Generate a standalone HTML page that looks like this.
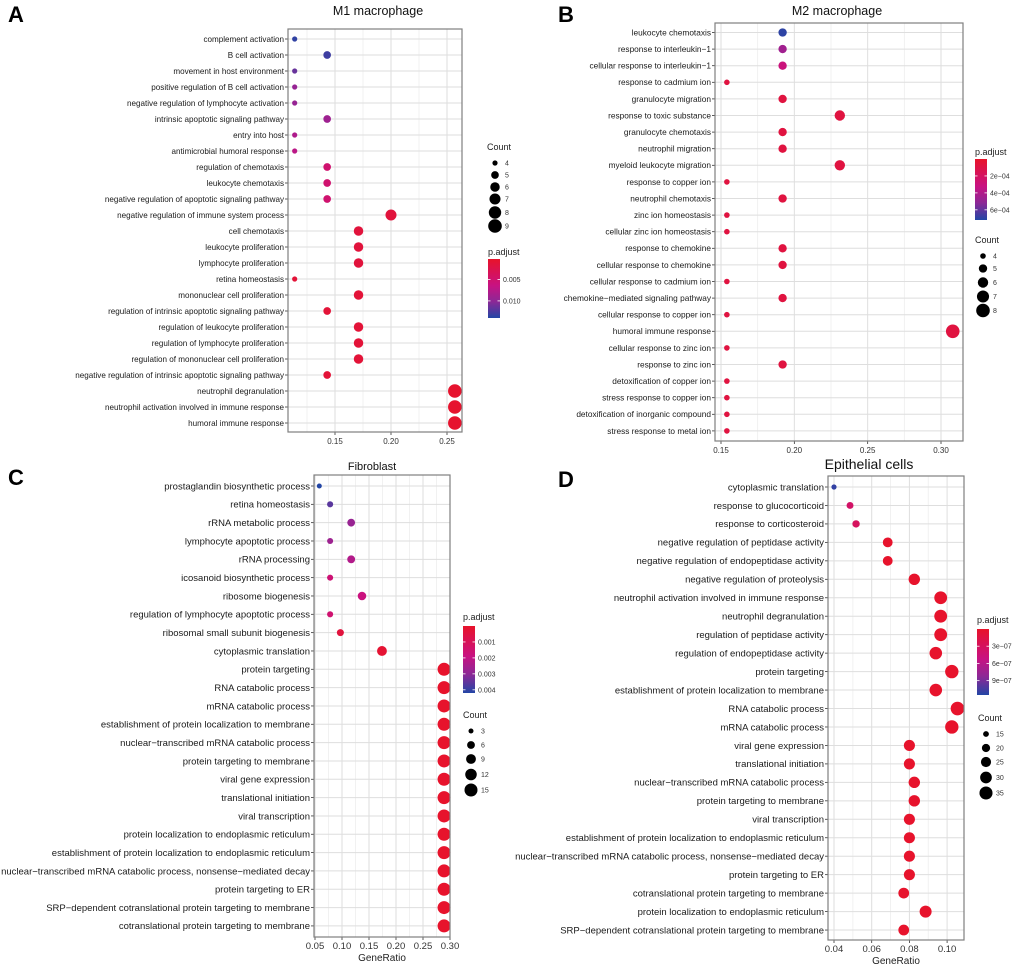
<!DOCTYPE html>
<html><head><meta charset="utf-8"><style>
body{margin:0;background:#fff;}
svg{display:block;font-family:"Liberation Sans",sans-serif;}
</style></head><body>
<svg id="fig" width="1020" height="968" viewBox="0 0 1020 968"></svg>
<script>
// ---------- Panel A data ----------
const A_terms = ["complement activation","B cell activation","movement in host environment","positive regulation of B cell activation","negative regulation of lymphocyte activation","intrinsic apoptotic signaling pathway","entry into host","antimicrobial humoral response","regulation of chemotaxis","leukocyte chemotaxis","negative regulation of apoptotic signaling pathway","negative regulation of immune system process","cell chemotaxis","leukocyte proliferation","lymphocyte proliferation","retina homeostasis","mononuclear cell proliferation","regulation of intrinsic apoptotic signaling pathway","regulation of leukocyte proliferation","regulation of lymphocyte proliferation","regulation of mononuclear cell proliferation","negative regulation of intrinsic apoptotic signaling pathway","neutrophil degranulation","neutrophil activation involved in immune response","humoral immune response"];
const A_ratio = [0.114,0.143,0.114,0.114,0.114,0.143,0.114,0.114,0.143,0.143,0.143,0.2,0.171,0.171,0.171,0.114,0.171,0.143,0.171,0.171,0.171,0.143,0.257,0.257,0.257];
const A_count = [4,5,4,4,4,5,4,4,5,5,5,7,6,6,6,4,6,5,6,6,6,5,9,9,9];
const A_padj = [0.0135,0.013,0.0115,0.0095,0.0095,0.009,0.008,0.0072,0.005,0.005,0.005,0.0015,0.0015,0.0015,0.0015,0.0012,0.0012,0.0012,0.0012,0.0012,0.0012,0.0012,0.0005,0.0005,0.0005];
const A_xticks = [0.15,0.20,0.25];
const A_xtickLabels = ["0.15","0.20","0.25"];
const A_countLegend = [4,5,6,7,8,9];
const A_padjTicks = [0.005,0.010];
const A_padjLabels = ["0.005","0.010"];
// ---------- Panel B data ----------
const B_terms = ["leukocyte chemotaxis","response to interleukin\u22121","cellular response to interleukin\u22121","response to cadmium ion","granulocyte migration","response to toxic substance","granulocyte chemotaxis","neutrophil migration","myeloid leukocyte migration","response to copper ion","neutrophil chemotaxis","zinc ion homeostasis","cellular zinc ion homeostasis","response to chemokine","cellular response to chemokine","cellular response to cadmium ion","chemokine\u2212mediated signaling pathway","cellular response to copper ion","humoral immune response","cellular response to zinc ion","response to zinc ion","detoxification of copper ion","stress response to copper ion","detoxification of inorganic compound","stress response to metal ion"];
const B_ratio = [0.192,0.192,0.192,0.154,0.192,0.231,0.192,0.192,0.231,0.154,0.192,0.154,0.154,0.192,0.192,0.154,0.192,0.154,0.308,0.154,0.192,0.154,0.154,0.154,0.154];
const B_count = [5,5,5,4,5,6,5,5,6,4,5,4,4,5,5,4,5,4,8,4,5,4,4,4,4];
const B_padj = [7e-4,4.5e-4,3e-4,8e-5,8e-5,8e-5,8e-5,8e-5,8e-5,8e-5,8e-5,8e-5,8e-5,8e-5,8e-5,8e-5,8e-5,8e-5,8e-5,8e-5,8e-5,8e-5,8e-5,8e-5,8e-5];
const B_xticks = [0.15,0.20,0.25,0.30];
const B_xtickLabels = ["0.15","0.20","0.25","0.30"];
const B_countLegend = [4,5,6,7,8];
const B_padjTicks = [2e-4,4e-4,6e-4];
const B_padjLabels = ["2e\u221204","4e\u221204","6e\u221204"];
// ---------- Panel C data ----------
const C_terms = ["prostaglandin biosynthetic process","retina homeostasis","rRNA metabolic process","lymphocyte apoptotic process","rRNA processing","icosanoid biosynthetic process","ribosome biogenesis","regulation of lymphocyte apoptotic process","ribosomal small subunit biogenesis","cytoplasmic translation","protein targeting","RNA catabolic process","mRNA catabolic process","establishment of protein localization to membrane","nuclear\u2212transcribed mRNA catabolic process","protein targeting to membrane","viral gene expression","translational initiation","viral transcription","protein localization to endoplasmic reticulum","establishment of protein localization to endoplasmic reticulum","nuclear\u2212transcribed mRNA catabolic process, nonsense\u2212mediated decay","protein targeting to ER","SRP\u2212dependent cotranslational protein targeting to membrane","cotranslational protein targeting to membrane"];
const C_ratio = [0.058,0.078,0.117,0.078,0.117,0.078,0.137,0.078,0.097,0.174,0.289,0.289,0.289,0.289,0.289,0.289,0.289,0.289,0.289,0.289,0.289,0.289,0.289,0.289,0.289];
const C_count = [3,4,6,4,6,4,7,4,5,9,15,15,15,15,15,15,15,15,15,15,15,15,15,15,15];
const C_padj = [0.0042,0.0036,0.0028,0.0027,0.0023,0.0016,0.0018,0.0015,0.0004,0.0002,5e-5,5e-5,5e-5,5e-5,5e-5,5e-5,5e-5,5e-5,5e-5,5e-5,5e-5,5e-5,5e-5,5e-5,5e-5];
const C_xticks = [0.05,0.10,0.15,0.20,0.25,0.30];
const C_xtickLabels = ["0.05","0.10","0.15","0.20","0.25","0.30"];
const C_countLegend = [3,6,9,12,15];
const C_padjTicks = [0.001,0.002,0.003,0.004];
const C_padjLabels = ["0.001","0.002","0.003","0.004"];
// ---------- Panel D data ----------
const D_terms = ["cytoplasmic translation","response to glucocorticoid","response to corticosteroid","negative regulation of peptidase activity","negative regulation of endopeptidase activity","negative regulation of proteolysis","neutrophil activation involved in immune response","neutrophil degranulation","regulation of peptidase activity","regulation of endopeptidase activity","protein targeting","establishment of protein localization to membrane","RNA catabolic process","mRNA catabolic process","viral gene expression","translational initiation","nuclear\u2212transcribed mRNA catabolic process","protein targeting to membrane","viral transcription","establishment of protein localization to endoplasmic reticulum","nuclear\u2212transcribed mRNA catabolic process, nonsense\u2212mediated decay","protein targeting to ER","cotranslational protein targeting to membrane","protein localization to endoplasmic reticulum","SRP\u2212dependent cotranslational protein targeting to membrane"];
const D_ratio = [0.04,0.0485,0.0517,0.0685,0.0685,0.0826,0.0966,0.0966,0.0966,0.094,0.1025,0.094,0.1055,0.1025,0.08,0.08,0.0826,0.0826,0.08,0.08,0.08,0.08,0.077,0.0886,0.077];
const D_count = [14,17,18,24,24,29,34,34,34,33,36,33,37,36,28,28,29,29,28,28,28,28,27,31,27];
const D_padj = [1.1e-6,3.5e-7,3e-7,1e-8,1e-8,1e-8,1e-8,1e-8,1e-8,1e-8,1e-8,1e-8,1e-8,1e-8,1e-8,1e-8,1e-8,1e-8,1e-8,1e-8,1e-8,1e-8,1e-8,1e-8,1e-8];
const D_xticks = [0.04,0.06,0.08,0.10];
const D_xtickLabels = ["0.04","0.06","0.08","0.10"];
const D_countLegend = [15,20,25,30,35];
const D_padjTicks = [3e-7,6e-7,9e-7];
const D_padjLabels = ["3e\u221207","6e\u221207","9e\u221207"];

const NS = "http://www.w3.org/2000/svg";
const svg = document.getElementById("fig");
function mk(tag, attrs, parent){
  const e = document.createElementNS(NS, tag);
  for (const k in attrs) e.setAttribute(k, attrs[k]);
  (parent||svg).appendChild(e);
  return e;
}
const stops = [[0,[232,19,42]],[0.45,[200,18,130]],[0.72,[140,40,150]],[1,[35,70,165]]];
function colorFor(t){
  t = Math.max(0, Math.min(1, t));
  for (let i=1;i<stops.length;i++){
    if (t <= stops[i][0]){
      const a=stops[i-1], b=stops[i], f=(t-a[0])/(b[0]-a[0]);
      const c=a[1].map((v,j)=>Math.round(v+(b[1][j]-v)*f));
      return "rgb("+c.join(",")+")";
    }
  }
  return "rgb(35,70,165)";
}
const grad = mk("defs",{});
const lg = mk("linearGradient",{id:"cbar",x1:"0",y1:"0",x2:"0",y2:"1"},grad);
stops.forEach(s=>mk("stop",{offset:s[0],"stop-color":"rgb("+s[1].join(",")+")"},lg));

function panel(cfg, terms, ratio, count, padj, xticks, xtickLabels, countLegend, padjTicks, padjLabels){
  const g = mk("g",{});
  
  
  const xs = v => cfg.x0 + (v - cfg.v0) * cfg.k;
  const ys = i => cfg.y0 + i * cfg.dy;
  const rs = c => Math.sqrt(cfg.rmin*cfg.rmin + (c-cfg.cmin)/(cfg.cmax-cfg.cmin)*(cfg.rmax*cfg.rmax-cfg.rmin*cfg.rmin));
  const pt = p => (p - cfg.pmin)/(cfg.pmax - cfg.pmin);
  for (let i=0;i<xticks.length+1;i++){
    const step = xticks[1]-xticks[0];
    const v = xticks[0] - step/2 + i*step;
    const x = xs(v);
    if (x > cfg.bx0 && x < cfg.bx1){
      const l = mk("line",{x1:x,x2:x,y1:cfg.by0,y2:cfg.by1,stroke:"#eeeeee","stroke-width":0.8},g);
      
      
    }
  }
  xticks.forEach((v,i)=>{
    const x = xs(v);
    const l = mk("line",{x1:x,x2:x,y1:cfg.by0,y2:cfg.by1,stroke:"#dedede","stroke-width":1},g);
    
    
    mk("line",{x1:x,x2:x,y1:cfg.by1,y2:cfg.by1+3,stroke:"#333","stroke-width":0.8},g);
    const t = mk("text",{x:x,y:cfg.by1+12,"text-anchor":"middle","font-size":cfg.tfs,fill:"#333"},g);
    t.textContent = xtickLabels[i];
    
    
  });
  terms.forEach((term,i)=>{
    const y = ys(i);
    const l = mk("line",{x1:cfg.bx0,x2:cfg.bx1,y1:y,y2:y,stroke:"#dedede","stroke-width":1},g);
    
    
    mk("line",{x1:cfg.bx0-3,x2:cfg.bx0,y1:y,y2:y,stroke:"#333","stroke-width":0.8},g);
    const t = mk("text",{x:cfg.bx0-4,y:y+cfg.fs*0.35,"text-anchor":"end","font-size":cfg.fs,fill:"#1a1a1a"},g);
    t.textContent = term;
    
    
  });
  terms.forEach((term,i)=>{
    const c = mk("circle",{cx:xs(ratio[i]),cy:ys(i),r:rs(count[i]),fill:colorFor(pt(padj[i]))},g);
    
    
  });
  const box = mk("rect",{x:cfg.bx0,y:cfg.by0,width:cfg.bx1-cfg.bx0,height:cfg.by1-cfg.by0,fill:"none",stroke:"#7f7f7f","stroke-width":1.2},g);
  
  
  if (cfg.title){
    const t = mk("text",{x:cfg.titleX,y:cfg.titleY,"text-anchor":"middle","font-size":cfg.titleFs,fill:"#111"},g);
    t.textContent = cfg.title;
    
    
  }
  if (cfg.xlab){
    const t = mk("text",{x:(cfg.bx0+cfg.bx1)/2,y:cfg.by1+24,"text-anchor":"middle","font-size":10,fill:"#222"},g);
    t.textContent = "GeneRatio";
    
    
  }
  const L = mk("text",{x:cfg.letterX,y:cfg.letterY,"font-size":22,"font-weight":"bold",fill:"#000"},g);
  L.textContent = cfg.letter;
  
  
  const ct = mk("text",{x:cfg.cLegX,y:cfg.cLegY,"font-size":9,fill:"#222"},g);
  ct.textContent = "Count";
  
  
  countLegend.forEach((c,i)=>{
    const y = cfg.cLegY + 13 + i*cfg.cLegDy + (i>=cfg.cLegDy2start? (i-cfg.cLegDy2start+1)*1.5:0);
    const d = mk("circle",{cx:cfg.cLegX+8,cy:y,r:rs(c),fill:"#000"},g);
    
    
    const t = mk("text",{x:cfg.cLegX+18,y:y+2.5,"font-size":7,fill:"#333"},g);
    t.textContent = c;
    
    
  });
  const pt2 = mk("text",{x:cfg.pLegX,y:cfg.pLegY,"font-size":9,fill:"#222"},g);
  pt2.textContent = "p.adjust";
  
  
  const bar = mk("rect",{x:cfg.pLegX,y:cfg.barY0,width:12,height:cfg.barY1-cfg.barY0,fill:"url(#cbar)"},g);
  
  
  padjTicks.forEach((p,i)=>{
    const y = cfg.barY0 + pt(p)*(cfg.barY1-cfg.barY0);
    mk("line",{x1:cfg.pLegX,x2:cfg.pLegX+2.5,y1:y,y2:y,stroke:"#fff","stroke-width":0.8},g);
    mk("line",{x1:cfg.pLegX+9.5,x2:cfg.pLegX+12,y1:y,y2:y,stroke:"#fff","stroke-width":0.8},g);
    const t = mk("text",{x:cfg.pLegX+15,y:y+2.5,"font-size":7,fill:"#333"},g);
    t.textContent = padjLabels[i];
    
    
  });
}

panel({id:"m1",letter:"A",letterX:8,letterY:22,title:"M1 macrophage",titleX:378,titleY:15,titleFs:12.5,
  bx0:288,bx1:462,by0:29,by1:432,x0:335,v0:0.15,k:1120,y0:39,dy:16,fs:8.1,tfs:8,
  rmin:2.6,rmax:6.8,cmin:4,cmax:9,pmin:0.0002,pmax:0.014,
  cLegX:487,cLegY:150,cLegDy:12,cLegDy2start:4,pLegX:488,pLegY:255,barY0:259,barY1:318},
  A_terms,A_ratio,A_count,A_padj,A_xticks,A_xtickLabels,A_countLegend,A_padjTicks,A_padjLabels);

panel({id:"m2",letter:"B",letterX:558,letterY:22,title:"M2 macrophage",titleX:837,titleY:15,titleFs:12.5,
  bx0:715,bx1:963,by0:23,by1:441,x0:721,v0:0.15,k:1466.7,y0:32.5,dy:16.6,fs:8.3,tfs:8,
  rmin:2.8,rmax:6.8,cmin:4,cmax:8,pmin:0,pmax:7.2e-4,
  cLegX:975,cLegY:243,cLegDy:12.5,cLegDy2start:2,pLegX:975,pLegY:155,barY0:159,barY1:220},
  B_terms,B_ratio,B_count,B_padj,B_xticks,B_xtickLabels,B_countLegend,B_padjTicks,B_padjLabels);

panel({id:"fibroblast",letter:"C",letterX:8,letterY:485,title:"Fibroblast",titleX:372,titleY:470,titleFs:11,xlab:true,
  bx0:314,bx1:450,by0:475,by1:937,x0:315,v0:0.05,k:540,y0:486,dy:18.33,fs:9.5,tfs:9.5,
  rmin:2.5,rmax:6.5,cmin:3,cmax:15,pmin:0,pmax:0.0042,
  cLegX:463,cLegY:718,cLegDy:14,cLegDy2start:3,pLegX:463,pLegY:620,barY0:626,barY1:693},
  C_terms,C_ratio,C_count,C_padj,C_xticks,C_xtickLabels,C_countLegend,C_padjTicks,C_padjLabels);

panel({id:"epithelial",letter:"D",letterX:558,letterY:487,title:"Epithelial cells",titleX:869,titleY:469,titleFs:14,xlab:true,
  bx0:828,bx1:964,by0:476,by1:940,x0:834,v0:0.04,k:1885,y0:487,dy:18.46,fs:9.5,tfs:9.5,
  rmin:2.6,rmax:6.8,cmin:14,cmax:37,pmin:0,pmax:1.15e-6,
  cLegX:978,cLegY:721,cLegDy:14,cLegDy2start:3,pLegX:977,pLegY:623,barY0:629,barY1:695},
  D_terms,D_ratio,D_count,D_padj,D_xticks,D_xtickLabels,D_countLegend,D_padjTicks,D_padjLabels);
</script>
</body></html>
